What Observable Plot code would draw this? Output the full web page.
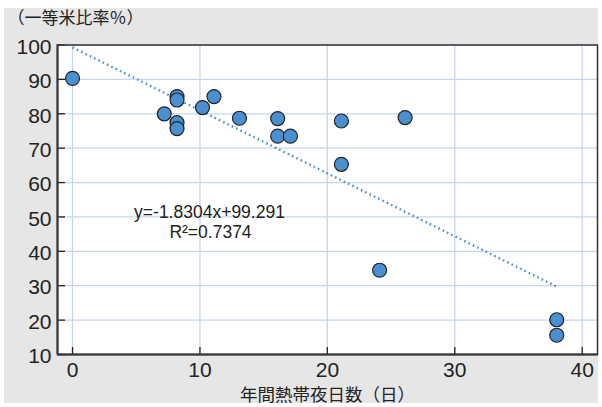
<!DOCTYPE html>
<html><head><meta charset="utf-8">
<script src="https://cdn.jsdelivr.net/npm/d3@7"></script>
<script src="https://cdn.jsdelivr.net/npm/@observablehq/plot@0.6"></script>
<style>
html,body{margin:0;padding:0;background:#fff;}
#wrap{position:relative;width:602px;height:407px;}
#bg{position:absolute;left:4px;top:8px;width:594px;height:395px;background:#e6e6e6;}
#chart{position:absolute;left:0;top:0;}
</style></head><body>
<div id="wrap"><div id="bg"></div><div id="chart"></div></div>
<script>
// 年間熱帯夜日数（日）
const nightsDays = [0, 7.2, 8.2, 8.2, 8.2, 8.2, 10.2, 11.1, 13.1, 16.1, 16.1, 17.1, 21.1, 21.1, 24.1, 26.1, 38, 38];
// 一等米比率（％）
const firstGradeRatio = [90.3, 80, 85, 84, 77.4, 75.7, 81.8, 85, 78.7, 78.6, 73.5, 73.5, 77.9, 65.3, 34.5, 78.9, 20.1, 15.6];
const xTicks = [0, 10, 20, 30, 40];
const yTicks = [10, 20, 30, 40, 50, 60, 70, 80, 90, 100];
const slope = -1.8304;
const intercept = 99.291;
const trendRange = [0, 38];
const equationLines = ["y=-1.8304x+99.291", "R²=0.7374"];
const yTitle = ["（一等米比率％）"];
const xTitle = ["年間熱帯夜日数（日）"];

const W = 602, H = 407, mL = 57, mR = 5, mT = 44.5, mB = 53;
const plotW = W - mL - mR, plotH = H - mT - mB;
const pts = nightsDays.map((x, i) => ({x, y: firstGradeRatio[i]}));
const trend = trendRange.map(x => ({x, y: intercept + slope * x}));
const jp = "'Noto Sans CJK JP', sans-serif";
const num = "'Liberation Sans', Arial, sans-serif";

const chart = Plot.plot({
  width: W, height: H,
  marginLeft: mL, marginRight: mR, marginTop: mT, marginBottom: mB,
  style: {background: "transparent", fontFamily: num, color: "#222"},
  x: {domain: [-1.18, 41.2]},
  y: {domain: [10, 100]},
  marks: [
    Plot.frame({fill: "white", stroke: null}),
    Plot.gridX(xTicks, {stroke: "#c6d6ef", strokeOpacity: 1, strokeWidth: 1.3}),
    Plot.gridY(yTicks, {stroke: "#c6d6ef", strokeOpacity: 1, strokeWidth: 1.3}),
    Plot.tickY(yTicks, {y: d => d, stroke: "#222", strokeWidth: 1.3, insetRight: plotW - 8}),
    Plot.tickX(xTicks, {x: d => d, stroke: "#222", strokeWidth: 1.3, insetTop: plotH - 7}),
    Plot.frame({stroke: "#333", strokeWidth: 1.5}),
    Plot.ruleX([-1.18], {stroke: "#333", strokeWidth: 2}),
    Plot.ruleY([10], {stroke: "#333", strokeWidth: 2}),
    Plot.axisY(yTicks, {tickSize: 0, tickPadding: 6, fontSize: 21, dy: 2, label: null}),
    Plot.axisX(xTicks, {tickSize: 0, tickPadding: 8, fontSize: 21, label: null}),
    Plot.line(trend, {x: "x", y: "y", stroke: "#4a90d0", strokeWidth: 2.4, strokeDasharray: "1.6,3.2", strokeLinecap: "butt"}),
    Plot.dot(pts, {x: "x", y: "y", r: 7, fill: "#4a8fd0", stroke: "#222", strokeWidth: 1.2}),
    Plot.text([equationLines[0]], {text: d => d, frameAnchor: "top-left", dx: 152, dy: 167.5, fontSize: 17.5, fill: "#222", textAnchor: "middle", lineAnchor: "middle"}),
    Plot.text([equationLines[1]], {text: d => d, frameAnchor: "top-left", dx: 153, dy: 187.5, fontSize: 17.5, fill: "#222", textAnchor: "middle", lineAnchor: "middle"}),
    Plot.text(yTitle, {text: d => d, frameAnchor: "top-left", dx: -50, dy: -26.5, fontSize: 17, fontFamily: jp, fill: "#222", textAnchor: "start", lineAnchor: "middle"}),
    Plot.text(xTitle, {text: d => d, frameAnchor: "bottom", dx: 0, dy: 41, fontSize: 17.5, fontFamily: jp, fill: "#222", textAnchor: "middle", lineAnchor: "middle"})
  ]
});
document.getElementById("chart").appendChild(chart);
</script>
</body></html>
